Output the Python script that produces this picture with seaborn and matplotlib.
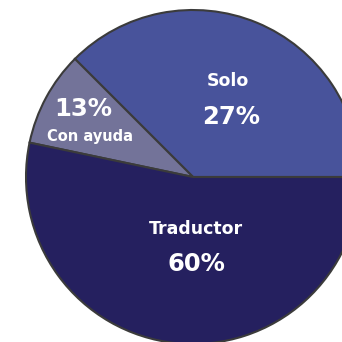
import matplotlib
matplotlib.use("Agg")
import matplotlib.pyplot as plt
import seaborn as sns

# Data: slice shares as drawn, and the printed labels
categories = ["Solo", "Con ayuda", "Traductor"]
shares = [37.5, 9.2, 53.3]
pct_labels = ["27%", "13%", "60%"]
colors = ["#48539b", "#737399", "#25205f"]

sns.set_theme(style="white")
plt.rcParams["font.family"] = ["DejaVu Sans"]

fig = plt.figure(figsize=(3.42, 3.42), dpi=100)
ax = fig.add_axes([0, 0, 1, 1])
ax.pie(shares, colors=colors, startangle=0, counterclock=True,
       center=(193, 165), radius=167,
       wedgeprops=dict(edgecolor="#3b3b3b", linewidth=1.5))
ax.set_xlim(0, 342)
ax.set_ylim(0, 342)
ax.set_aspect("equal")
ax.axis("off")

# label layout (name position, percent position)
name_pos = [(228, 261), (90, 206), (196, 113)]
pct_pos = [(231, 225), (83, 233), (196, 78)]
for i, cat in enumerate(categories):
    small = cat == "Con ayuda"
    ax.text(*name_pos[i], cat, color="white", fontweight="bold",
            fontsize=10.5 if small else 12.5, ha="center", va="center")
    ax.text(*pct_pos[i], pct_labels[i], color="white", fontweight="bold",
            fontsize=17.5, ha="center", va="center")

fig.savefig("out.png", dpi=100, facecolor="white")
